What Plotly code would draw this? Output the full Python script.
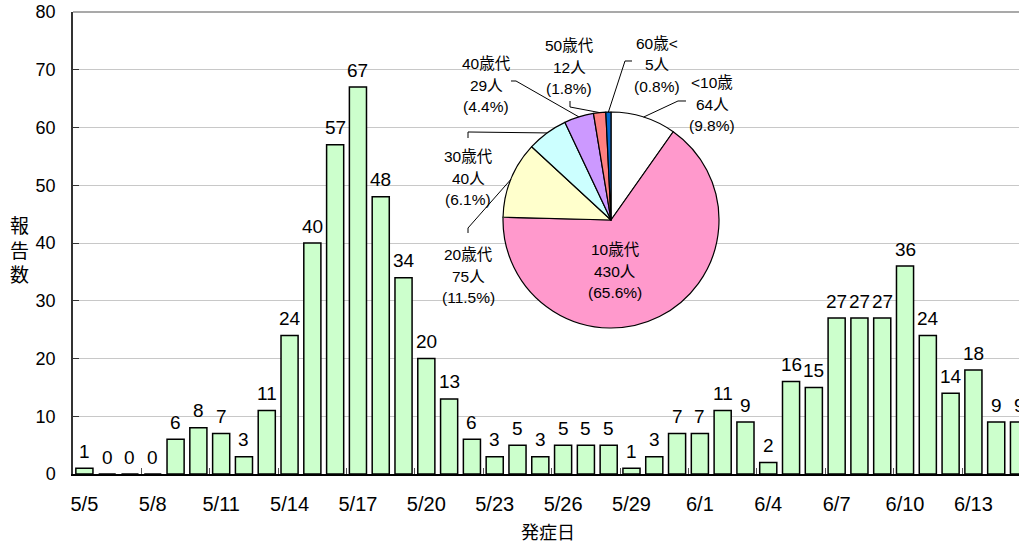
import math
import plotly.graph_objects as go

# ---------------- data ----------------
dates = ["5/5", "5/6", "5/7", "5/8", "5/9", "5/10", "5/11", "5/12", "5/13", "5/14",
         "5/15", "5/16", "5/17", "5/18", "5/19", "5/20", "5/21", "5/22", "5/23", "5/24",
         "5/25", "5/26", "5/27", "5/28", "5/29", "5/30", "5/31", "6/1", "6/2", "6/3",
         "6/4", "6/5", "6/6", "6/7", "6/8", "6/9", "6/10", "6/11", "6/12", "6/13",
         "6/14", "6/15"]
counts = [1, 0, 0, 0, 6, 8, 7, 3, 11, 24,
          40, 57, 67, 48, 34, 20, 13, 6, 3, 5,
          3, 5, 5, 5, 1, 3, 7, 7, 11, 9,
          2, 16, 15, 27, 27, 27, 36, 24, 14, 18,
          9, 9]
age_groups = ["<10歳", "10歳代", "20歳代", "30歳代", "40歳代", "50歳代", "60歳<"]
age_counts = [64, 430, 75, 40, 29, 12, 5]
age_colors = ["#FFFFFF", "#FF99CC", "#FFFFCC", "#CCFFFF", "#CC99FF", "#FF8080", "#0066CC"]
y_title = "報告数"
x_title = "発症日"

# ---------------- layout constants (pixels) ----------------
W, H = 1019, 544
L, R, T, B = 73, 1019, 12, 474
FONT = "Liberation Sans, Arial, Noto Sans CJK JP, sans-serif"


def pp(px, py):
    return (px - L) / (R - L), (B - py) / (B - T)


PIE_CX, PIE_CY, PIE_R = 611, 220, 108
label_pos = {
    "<10歳": (712, 104),
    "10歳代": (615, 271),
    "20歳代": (468, 276),
    "30歳代": (468, 178),
    "40歳代": (486, 85),
    "50歳代": (569, 67),
    "60歳<": (657, 65),
}
leader_pts = {
    "<10歳": [(678, 101), (686, 101)],
    "20歳代": [(468, 228), (468, 233)],
    "30歳代": [(468, 132), (468, 138)],
    "40歳代": [(516, 81), (511, 81)],
    "50歳代": [(570, 107), (570, 101)],
    "60歳<": [(625, 61), (632, 61)],
}
LINE_GAP = 21.5

x_idx = list(range(len(dates)))

fig = go.Figure()
fig.add_trace(go.Bar(
    x=x_idx, y=counts, width=0.75,
    marker=dict(color="#CCFFCC", line=dict(color="#000000", width=1.5)),
    hoverinfo="skip", showlegend=False,
))

# pie domain from pixel geometry
dx0, dy0 = pp(PIE_CX - PIE_R, PIE_CY + PIE_R)
dx1, dy1 = pp(PIE_CX + PIE_R, PIE_CY - PIE_R)
fig.add_trace(go.Pie(
    labels=age_groups, values=age_counts, sort=False, direction="clockwise",
    rotation=0, textinfo="none", hoverinfo="skip", showlegend=False,
    marker=dict(colors=age_colors, line=dict(color="#000000", width=1.2)),
    domain=dict(x=[dx0, dx1], y=[dy0, dy1]),
))

annotations = []
# bar value labels
for i, c in zip(x_idx, counts):
    annotations.append(dict(x=i, y=c, xref="x", yref="y", text=str(c), showarrow=False,
                            yanchor="middle", yshift=17,
                            font=dict(family=FONT, size=19, color="#000000")))

# pie labels and leader lines
total = sum(age_counts)
shapes = []
cum = 0
for name, n in zip(age_groups, age_counts):
    pct = n / total * 100
    mid = (cum + n / 2) / total * 2 * math.pi
    cum += n
    lines = [name, f"{n}人", f"({pct:.1f}%)"]
    cx, cy = label_pos[name]
    for k, t in enumerate(lines):
        ax, ay = pp(cx, cy + (k - 1) * LINE_GAP)
        annotations.append(dict(x=ax, y=ay, xref="paper", yref="paper", text=t,
                                showarrow=False, xanchor="center", yanchor="middle",
                                font=dict(family=FONT, size=15.5, color="#000000")))
    if name in leader_pts:
        ex = PIE_CX + PIE_R * math.sin(mid)
        ey = PIE_CY - PIE_R * math.cos(mid)
        pts = [(ex, ey)] + leader_pts[name]
        path = ""
        for j, (px, py) in enumerate(pts):
            qx, qy = pp(px, py)
            path += ("M" if j == 0 else " L") + f"{qx:.5f},{qy:.5f}"
        shapes.append(dict(type="path", path=path, xref="paper", yref="paper",
                           line=dict(color="#000000", width=1), layer="above"))

# white background behind pie (hides gridlines)
bx0, by0 = pp(433, 335)
bx1, by1 = pp(735, 15)
shapes.append(dict(type="rect", xref="paper", yref="paper", x0=bx0, x1=bx1, y0=by0, y1=by1,
                   fillcolor="#FFFFFF", line=dict(width=0), layer="between"))
# top frame line
shapes.append(dict(type="line", xref="paper", yref="paper", x0=0, x1=1, y0=1, y1=1,
                   line=dict(color="#8C8C8C", width=1.5), layer="above"))

# axis titles
tx, ty = pp(19, 251)
annotations.append(dict(x=tx, y=ty, xref="paper", yref="paper", text="<br>".join(list(y_title)),
                        showarrow=False, xanchor="center", yanchor="middle",
                        font=dict(family=FONT, size=19, color="#000000")))
tx, ty = pp(548, 533)
annotations.append(dict(x=tx, y=ty, xref="paper", yref="paper", text=x_title,
                        showarrow=False, xanchor="center", yanchor="middle",
                        font=dict(family=FONT, size=18, color="#000000")))

tick_idx = x_idx[::3]
fig.update_layout(
    width=W, height=H,
    margin=dict(l=L, r=W - R, t=T, b=H - B, pad=0),
    paper_bgcolor="#FFFFFF", plot_bgcolor="#FFFFFF",
    bargap=0.25,
    xaxis=dict(
        range=[-0.5, 41.0], tickmode="array", tickvals=tick_idx,
        ticktext=[dates[i] for i in tick_idx], ticks="", showgrid=False, zeroline=False,
        showline=True, linecolor="#000000", linewidth=1.5,
        tickfont=dict(family=FONT, size=20, color="#000000"), ticklabelstandoff=11,
        minor=dict(tickvals=[i - 0.5 for i in tick_idx[1:]], ticks="inside", ticklen=6,
                   tickcolor="#555555", tickwidth=1, showgrid=False),
    ),
    yaxis=dict(
        range=[0, 80], dtick=10, showgrid=True, gridcolor="#C8C8C8", gridwidth=1,
        zeroline=False, showline=True, linecolor="#333333", linewidth=1.5,
        ticks="inside", ticklen=6, tickcolor="#333333",
        tickfont=dict(family=FONT, size=18, color="#000000"), ticklabelstandoff=12,
    ),
    annotations=annotations,
    shapes=shapes,
)

fig.write_html("out.html", config={"displayModeBar": False},
               post_script="document.body.style.margin='0';document.body.style.overflow='hidden';")
